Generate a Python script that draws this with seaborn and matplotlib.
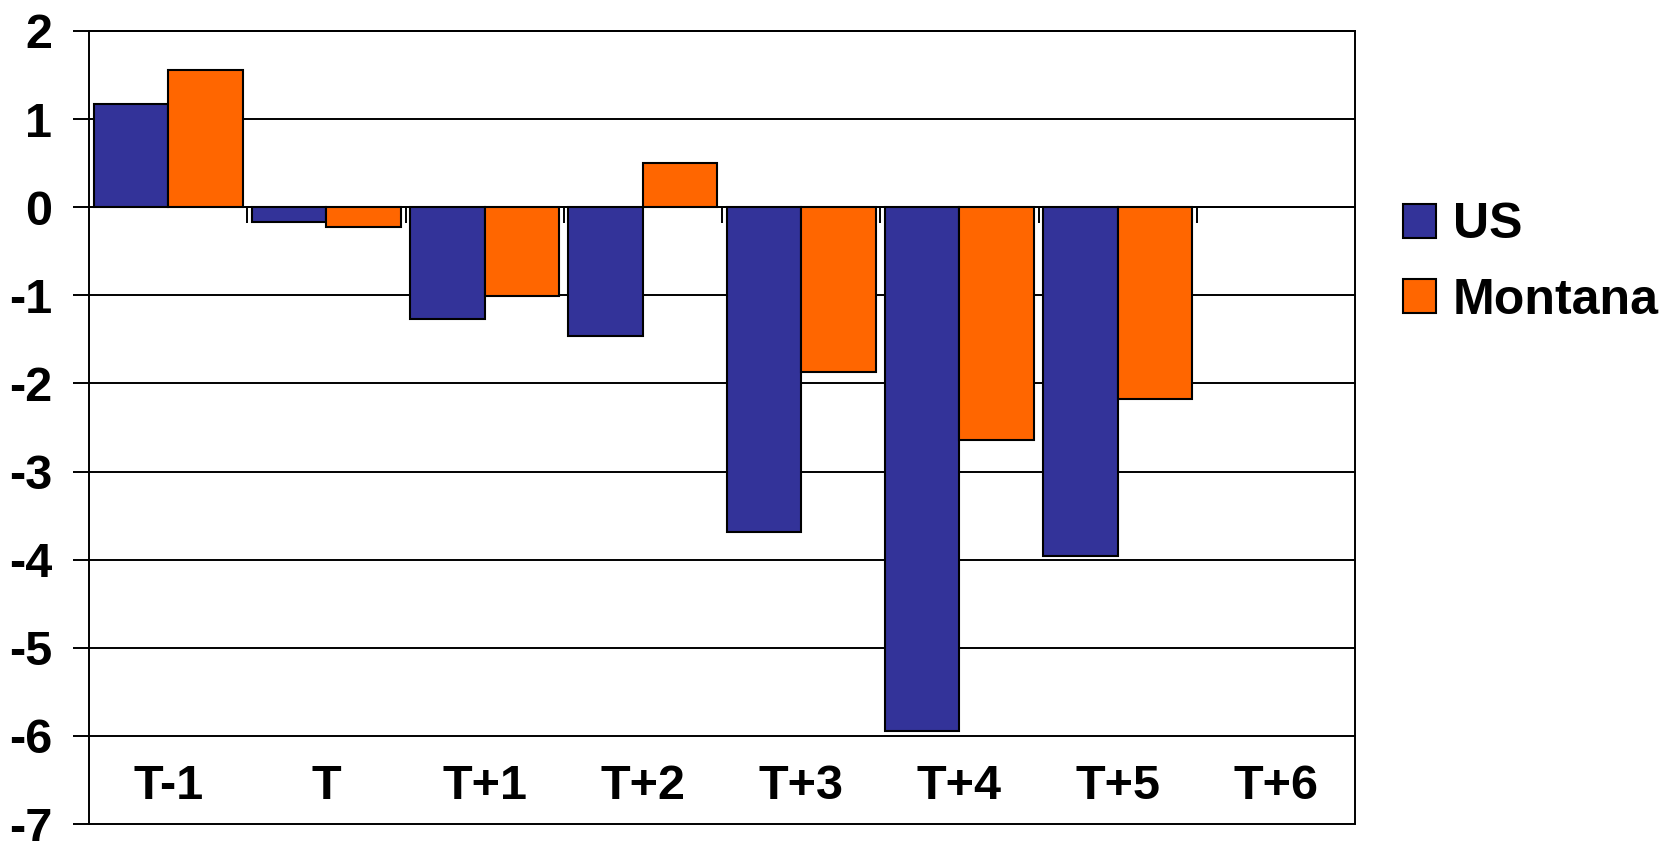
import matplotlib
matplotlib.use("Agg")
import matplotlib.font_manager as fm
import matplotlib.pyplot as plt
import pandas as pd
import seaborn as sns
from matplotlib.patches import Patch

# Dados
periods = ["T-1", "T", "T+1", "T+2", "T+3", "T+4", "T+5", "T+6"]
us_values = [1.17, -0.17, -1.27, -1.46, -3.69, -5.95, -3.96, None]
montana_values = [1.56, -0.22, -1.01, 0.50, -1.87, -2.64, -2.18, None]
series_names = ["US", "Montana"]
series_colors = ["#333399", "#FF6600"]
y_ticks = list(range(-7, 3))
label_y = -6.58

df = pd.DataFrame({
    "period": periods * 2,
    "series": ["US"] * len(periods) + ["Montana"] * len(periods),
    "value": us_values + montana_values,
}).dropna()

installed = {f.name for f in fm.fontManager.ttflist}
narrow = "Liberation Sans Narrow" if "Liberation Sans Narrow" in installed else "Liberation Sans"

sns.set_theme(style="white")
plt.rcParams["font.family"] = ["Liberation Sans", "DejaVu Sans"]
plt.rcParams["text.color"] = "black"
plt.rcParams["xtick.color"] = "black"
plt.rcParams["ytick.color"] = "black"

W, H = 1673, 841
fig = plt.figure(figsize=(W / 100, H / 100), dpi=100)
ax = fig.add_axes([89 / W, 1 - 824 / H, (1355 - 89) / W, (824 - 31) / H])

sns.barplot(
    data=df, x="period", y="value", hue="series",
    order=periods, hue_order=series_names, palette=series_colors,
    width=0.94, gap=0, saturation=1, edgecolor="black", linewidth=1.5,
    legend=False, ax=ax, zorder=3,
)

ax.set_xlim(-0.5, len(periods) - 0.5)
ax.set_ylim(min(y_ticks), max(y_ticks))
ax.set_yticks(y_ticks)
ax.set_yticklabels([str(t) for t in y_ticks], fontsize=35, fontweight="bold",
                   family=narrow, color="black")
ax.tick_params(axis="y", which="major", left=True, length=11.5, width=1.4,
               direction="out", color="black", pad=15)

# grade horizontal
ax.yaxis.grid(True, color="black", linewidth=1.4, zorder=1)
for gl in ax.get_ygridlines():
    gl.set_clip_on(False)

# eixo x em zero com marcas entre as categorias
ax.spines["bottom"].set_position(("data", 0))
for side in ["left", "right", "top", "bottom"]:
    ax.spines[side].set_color("black")
    ax.spines[side].set_linewidth(1.4)
ax.set_xticks(range(len(periods)))
ax.set_xticks([i + 0.5 for i in range(len(periods) - 1)], minor=True)
ax.tick_params(axis="x", which="major", length=0, labelbottom=False)
ax.tick_params(axis="x", which="minor", bottom=True, length=11.5, width=1.4,
               direction="out", color="black")
ax.set_xlabel("")
ax.set_ylabel("")

for i, p in enumerate(periods):
    ax.text(i, label_y, p, ha="center", va="center", fontsize=35,
            fontweight="bold", family=narrow, color="black", zorder=4)

handles = [Patch(facecolor=c, edgecolor="black", linewidth=1.5) for c in series_colors]
leg = ax.legend(
    handles, series_names, loc="center left",
    bbox_to_anchor=(1403 / W, 1 - 263 / H), bbox_transform=fig.transFigure,
    frameon=False, prop={"size": 36, "weight": "bold"},
    handlelength=0.66, handleheight=0.66, handletextpad=0.33,
    labelspacing=0.58, borderpad=0, borderaxespad=0,
)
for t in leg.get_texts():
    t.set_color("black")

fig.savefig("out.png", dpi=100)
plt.close(fig)
